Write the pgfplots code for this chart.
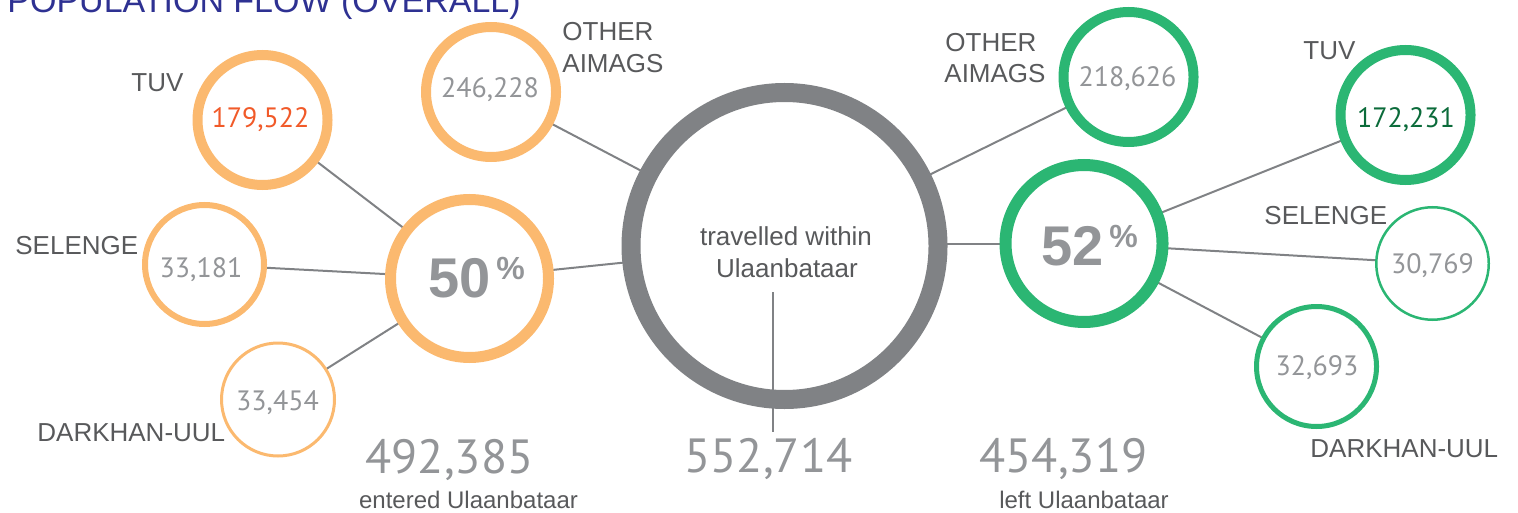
\documentclass[border=0pt]{standalone}
\usepackage{pgfplots}
\pgfplotsset{compat=1.18}
\usepackage{fontspec}
\setmainfont{Liberation Sans}
\newfontfamily\numfont{PT Sans}
\definecolor{orng}{HTML}{FBB96F}
\definecolor{grn}{HTML}{2BB673}
\definecolor{ringc}{HTML}{808285}
\definecolor{numg}{HTML}{939598}
\definecolor{lab}{HTML}{58595B}
\definecolor{ttl}{HTML}{2E3192}
\definecolor{tuvo}{HTML}{F15A29}
\definecolor{tuvg}{HTML}{0B6B3A}
\definecolor{lnc}{HTML}{808285}

% one ring: centre x, centre y (pixels, y down), outer radius, stroke width, colour
\newcommand{\ring}[5]{%
  \addplot[only marks, mark=*, mark size={(#3-0.5*#4)*0.5pt},
    mark options={draw=#5, fill=white, line width={#4*0.5pt}}] coordinates {(#1,#2)};}

\pgfplotsset{
  conn/.style={lnc, line width=1pt, mark=none},
  canvas/.style={at={(0,0)}, anchor=south west, scale only axis,
    width=759pt, height=256.5pt, xmin=0, xmax=1518, ymin=0, ymax=513,
    y dir=reverse, hide axis, clip=false}
}

\newcommand{\lbl}{\fontsize{13pt}{15pt}\selectfont}
\newcommand{\cnum}{\numfont\fontsize{14pt}{16pt}\selectfont}
\newcommand{\bnum}{\numfont\fontsize{24pt}{28pt}\selectfont}

\begin{document}
\begin{tikzpicture}
\useasboundingbox (0,0) rectangle (759pt,256.5pt);
\clip (0,0) rectangle (759pt,256.5pt);
\begin{axis}[canvas]
% connector lines (centre to centre, hidden by the white circles)
\addplot[conn] coordinates {(262.5,120) (469.5,278.5)};
\addplot[conn] coordinates {(204.5,264.5) (469.5,278.5)};
\addplot[conn] coordinates {(278,399.5) (469.5,278.5)};
\addplot[conn] coordinates {(469.5,278.5) (784.5,246)};
\addplot[conn] coordinates {(491,92) (784.5,246)};
\addplot[conn] coordinates {(1128.5,77) (784.5,246)};
\addplot[conn] coordinates {(784.5,244) (1084,244)};
\addplot[conn] coordinates {(1084,243.5) (1405.5,115)};
\addplot[conn] coordinates {(1084,243.5) (1432.5,263.5)};
\addplot[conn] coordinates {(1084,243.5) (1316.5,366.5)};

% orange rings (entered)
\ring{262.5}{120}{70}{10}{orng}
\ring{491}{92}{70}{10}{orng}
\ring{469.5}{278.5}{84.5}{11}{orng}
\ring{204.5}{264.5}{62.5}{6}{orng}
\ring{278}{399.5}{58}{3}{orng}
% gray ring (within)
\ring{784.5}{246}{163}{19}{ringc}
% green rings (left)
\ring{1128.5}{77}{70}{10}{grn}
\ring{1405.5}{115}{70}{10}{grn}
\ring{1084}{243.5}{84.5}{12}{grn}
\ring{1432.5}{263.5}{57.5}{2.5}{grn}
\ring{1316.5}{366.5}{62.5}{5}{grn}
\end{axis}

\begin{axis}[canvas]
\addplot[conn] coordinates {(773,292) (773,432)};

% title
\node[anchor=base west, text=ttl, font=\fontsize{17pt}{20pt}\selectfont, inner sep=0pt] at (axis cs:7,13) {POPULATION FLOW (OVERALL)};

% labels
\node[anchor=base west, text=lab, font=\lbl, inner sep=0pt] at (axis cs:131,92) {TUV};
\node[anchor=base west, text=lab, font=\lbl, inner sep=0pt] at (axis cs:562,41) {OTHER};
\node[anchor=base west, text=lab, font=\lbl, inner sep=0pt] at (axis cs:562,73) {AIMAGS};
\node[anchor=base west, text=lab, font=\lbl, inner sep=0pt] at (axis cs:15,254) {SELENGE};
\node[anchor=base west, text=lab, font=\lbl, inner sep=0pt] at (axis cs:37,441) {DARKHAN-UUL};
\node[anchor=base west, text=lab, font=\lbl, inner sep=0pt] at (axis cs:945,52) {OTHER};
\node[anchor=base west, text=lab, font=\lbl, inner sep=0pt] at (axis cs:944,83) {AIMAGS};
\node[anchor=base west, text=lab, font=\lbl, inner sep=0pt] at (axis cs:1303,60) {TUV};
\node[anchor=base west, text=lab, font=\lbl, inner sep=0pt] at (axis cs:1264,224) {SELENGE};
\node[anchor=base west, text=lab, font=\lbl, inner sep=0pt] at (axis cs:1310,457) {DARKHAN-UUL};

\node[anchor=base, text=lab, font=\lbl, inner sep=0pt] at (axis cs:786,245) {travelled within};
\node[anchor=base, text=lab, font=\lbl, inner sep=0pt] at (axis cs:787,277) {Ulaanbataar};
\node[anchor=base, text=lab, font=\fontsize{12pt}{14pt}\selectfont, inner sep=0pt] at (axis cs:468.5,508) {entered Ulaanbataar};
\node[anchor=base, text=lab, font=\fontsize{12pt}{14pt}\selectfont, inner sep=0pt] at (axis cs:1084,508) {left Ulaanbataar};

% big numbers
\node[anchor=base, text=numg, font=\bnum, inner sep=0pt] at (axis cs:449.5,473) {492,385};
\node[anchor=base, text=numg, font=\bnum, inner sep=0pt] at (axis cs:768.5,472) {552,714};
\node[anchor=base, text=numg, font=\bnum, inner sep=0pt] at (axis cs:1063.5,472) {454,319};

% circle numbers
\node[anchor=base, text=tuvo, font=\cnum, inner sep=0pt] at (axis cs:260.5,128) {179,522};
\node[anchor=base, text=numg, font=\cnum, inner sep=0pt] at (axis cs:490,98) {246,228};
\node[anchor=base, text=numg, font=\cnum, inner sep=0pt] at (axis cs:201,277) {33,181};
\node[anchor=base, text=numg, font=\cnum, inner sep=0pt] at (axis cs:277.5,410) {33,454};
\node[anchor=base, text=numg, font=\cnum, inner sep=0pt] at (axis cs:1127.5,87) {218,626};
\node[anchor=base, text=tuvg, font=\cnum, inner sep=0pt] at (axis cs:1406,128) {172,231};
\node[anchor=base, text=numg, font=\cnum, inner sep=0pt] at (axis cs:1432.5,273) {30,769};
\node[anchor=base, text=numg, font=\cnum, inner sep=0pt] at (axis cs:1317,375) {32,693};

% percentages
\node[anchor=base west, text=numg, font=\bfseries\fontsize{28pt}{30pt}\selectfont, inner sep=0pt] at (axis cs:428,297) {50};
\node[anchor=base west, text=numg, font=\bfseries\fontsize{16pt}{18pt}\selectfont, inner sep=0pt] at (axis cs:496,279) {\%};
\node[anchor=base west, text=numg, font=\bfseries\fontsize{28pt}{30pt}\selectfont, inner sep=0pt] at (axis cs:1041,265) {52};
\node[anchor=base west, text=numg, font=\bfseries\fontsize{16pt}{18pt}\selectfont, inner sep=0pt] at (axis cs:1109,247) {\%};
\end{axis}
\end{tikzpicture}
\end{document}
